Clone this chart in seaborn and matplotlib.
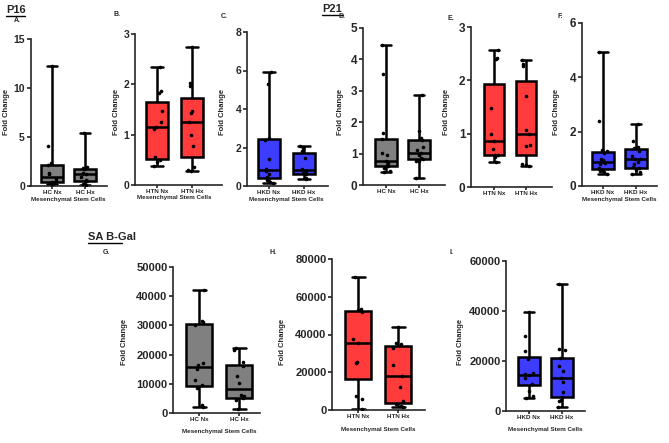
import numpy as np
import pandas as pd
import seaborn as sns
import matplotlib.pyplot as plt
from matplotlib.lines import Line2D

# P16 fold change, panels A-C
hc_nx_p16 = [0.2, 0.3, 0.3, 0.4, 0.5, 0.7, 1.2, 1.3, 2.1, 2.3, 4.1, 12.2]
hc_hx_p16 = [0.1, 0.2, 0.5, 0.6, 0.9, 1.2, 1.3, 1.7, 1.8, 1.9, 5.4]
htn_nx_p16 = [0.37, 0.45, 0.50, 0.55, 1.12, 1.15, 1.25, 1.47, 1.83, 1.87, 2.35]
htn_hx_p16 = [0.28, 0.30, 0.35, 0.78, 1.0, 1.25, 1.44, 1.47, 1.97, 2.02, 2.75]
hkd_nx_p16 = [0.15, 0.2, 0.3, 0.45, 0.6, 0.8, 0.9, 1.4, 2.4, 2.5, 5.3, 5.9]
hkd_hx_p16 = [0.38, 0.42, 0.6, 0.7, 0.8, 0.9, 1.45, 1.8, 2.0, 2.1]

# P21 fold change, panels D-F
hc_nx_p21 = [0.42, 0.45, 0.55, 0.62, 0.65, 0.7, 0.78, 0.95, 1.02, 1.45, 1.65, 3.55, 4.45]
hc_hx_p21 = [0.22, 0.75, 0.78, 0.82, 0.85, 0.95, 1.03, 1.1, 1.2, 1.42, 1.5, 1.72, 2.88]
htn_nx_p21 = [0.46, 0.56, 0.6, 0.6, 0.72, 0.87, 1.0, 1.48, 2.4, 2.42, 2.57]
htn_hx_p21 = [0.4, 0.42, 0.44, 0.76, 0.78, 1.0, 1.07, 1.7, 2.26, 2.3, 2.38]
hkd_nx_p21 = [0.45, 0.5, 0.55, 0.6, 0.65, 0.8, 0.85, 0.88, 0.95, 1.0, 1.2, 1.3, 1.32, 2.4, 4.95]
hkd_hx_p21 = [0.45, 0.5, 0.6, 0.65, 0.7, 0.8, 0.9, 0.98, 1.0, 1.1, 1.3, 1.4, 1.45, 1.65, 2.28]

# SA B-Gal, panels G-I
hc_nx_gal = [2200, 2800, 8500, 9600, 11200, 15000, 16500, 17200, 30300, 31000, 31500, 42200]
hc_hx_gal = [1200, 4300, 4800, 5200, 5800, 6200, 10200, 12800, 16000, 17500, 21500, 22200]
htn_nx_gal = [300, 6000, 7600, 25000, 25600, 35300, 37800, 52000, 53200, 53600, 70300]
htn_hx_gal = [1750, 2000, 3000, 4800, 12200, 18000, 24000, 32800, 35000, 35600, 43800]
hkd_nx_gal = [5300, 6000, 8000, 11000, 13200, 14300, 14700, 15200, 20800, 24000, 30000, 39500]
hkd_hx_gal = [1700, 4000, 4500, 5700, 7500, 11600, 13200, 16000, 18000, 21300, 24400, 24800, 50800]

hc_names = ['HC Nx', 'HC Hx']
htn_names = ['HTN Nx', 'HTN Hx']
hkd_names = ['HKD Nx', 'HKD Hx']

gray = '#808080'
red = '#ff3b3b'
blue = '#3d3dff'

sns.set_style('ticks')
plt.rcParams['font.family'] = ['Liberation Sans Narrow', 'Liberation Sans', 'DejaVu Sans']
plt.rcParams['font.weight'] = 'bold'

W, H = 669, 443
fig = plt.figure(figsize=(W / 100, H / 100), dpi=100)
np.random.seed(3)


def ftext(x, y, s, **kw):
    fig.text(x / W, 1 - y / H, s, **kw)


def panel(nx, hx, names, color, geom, ymax, step, ylab_x, ylab_y, tick_fs, msc):
    left, right, top, bottom, c0, c1 = geom
    ax = fig.add_axes([left / W, 1 - bottom / H, (right - left) / W, (bottom - top) / H])
    df = pd.DataFrame({'group': [names[0]] * len(nx) + [names[1]] * len(hx),
                       'value': nx + hx})
    sns.boxplot(data=df, x='group', y='value', color=color, saturation=1, width=0.65,
                whis=(0, 100), linecolor='black', linewidth=1.8, fliersize=0, ax=ax)
    sns.stripplot(data=df, x='group', y='value', color='black', size=2.6,
                  jitter=0.14, ax=ax)
    s = c1 - c0
    ax.set_xlim((left - c0) / s, 1 + (right - c1) / s)
    ax.set_ylim(0, ymax)
    ticks = np.arange(0, ymax + step / 2, step)
    ax.set_yticks(ticks)
    ax.set_yticklabels([f'{int(v)}' for v in ticks])
    ax.set_xlabel('')
    ax.set_ylabel('')
    ax.tick_params(axis='y', labelsize=tick_fs, length=3, width=1.2, pad=1)
    ax.tick_params(axis='x', labelsize=4.5, length=2.5, width=1.2, pad=0.5)
    for sp in ['top', 'right']:
        ax.spines[sp].set_visible(False)
    for sp in ['left', 'bottom']:
        ax.spines[sp].set_linewidth(1.2)
    ax.patch.set_alpha(0)
    ftext(ylab_x, ylab_y, 'Fold Change', rotation=90, ha='center', va='center', fontsize=5.5)
    if msc:
        ftext((c0 + c1) / 2, bottom + 13 if bottom < 300 else bottom + 19,
              'Mesenchymal Stem Cells', ha='center', va='center', fontsize=4.5)
    return ax


panel(hc_nx_p16, hc_hx_p16, hc_names, gray, (30.5, 107, 39, 186, 52, 85), 15, 5, 7, 112, 7.5, True)
panel(htn_nx_p16, htn_hx_p16, htn_names, red, (135, 222, 34, 185, 157, 192), 3, 1, 116, 112, 7.5, True)
panel(hkd_nx_p16, hkd_hx_p16, hkd_names, blue, (247, 328, 32, 186, 269, 304), 8, 2, 223, 112, 7.5, True)
panel(hc_nx_p21, hc_hx_p21, hc_names, gray, (363, 445, 28, 185, 386, 419), 5, 1, 340, 112, 8.5, False)
panel(htn_nx_p21, htn_hx_p21, htn_names, red, (471, 552, 27, 187, 494, 526), 3, 1, 447, 112, 8.5, False)
panel(hkd_nx_p21, hkd_hx_p21, hkd_names, blue, (582, 657, 23, 186, 603, 636), 6, 2, 556, 112, 8.5, True)
panel(hc_nx_gal, hc_hx_gal, hc_names, gray, (173, 260, 267, 413, 199, 239), 50000, 10000, 125, 342, 8, True)
panel(htn_nx_gal, htn_hx_gal, htn_names, red, (332, 425, 259, 410, 358, 398), 80000, 20000, 282, 342, 8, True)
panel(hkd_nx_gal, hkd_hx_gal, hkd_names, blue, (506, 585, 261, 411, 529, 562), 60000, 20000, 461, 342, 8, True)

# section titles with underline
for x0, x1, y, s in [(6, 25, 10, 'P16'), (322, 343, 9, 'P21'), (88, 122, 237, 'SA B-Gal')]:
    ftext(x0, y, s, ha='left', va='center', fontsize=8)
    fig.add_artist(Line2D([x0 / W, x1 / W], [1 - (y + 6) / H] * 2, color='black', lw=1))

for x, y, s in [(14, 21, 'A.'), (114, 15, 'B.'), (221, 16, 'C.'), (338, 17, 'D.'),
                (448, 19, 'E.'), (558, 16, 'F.'), (103, 252, 'G.'), (270, 252, 'H.'),
                (449, 252, 'I.')]:
    ftext(x, y, s, ha='left', va='center', fontsize=5)

fig.savefig('out.png', dpi=100)
